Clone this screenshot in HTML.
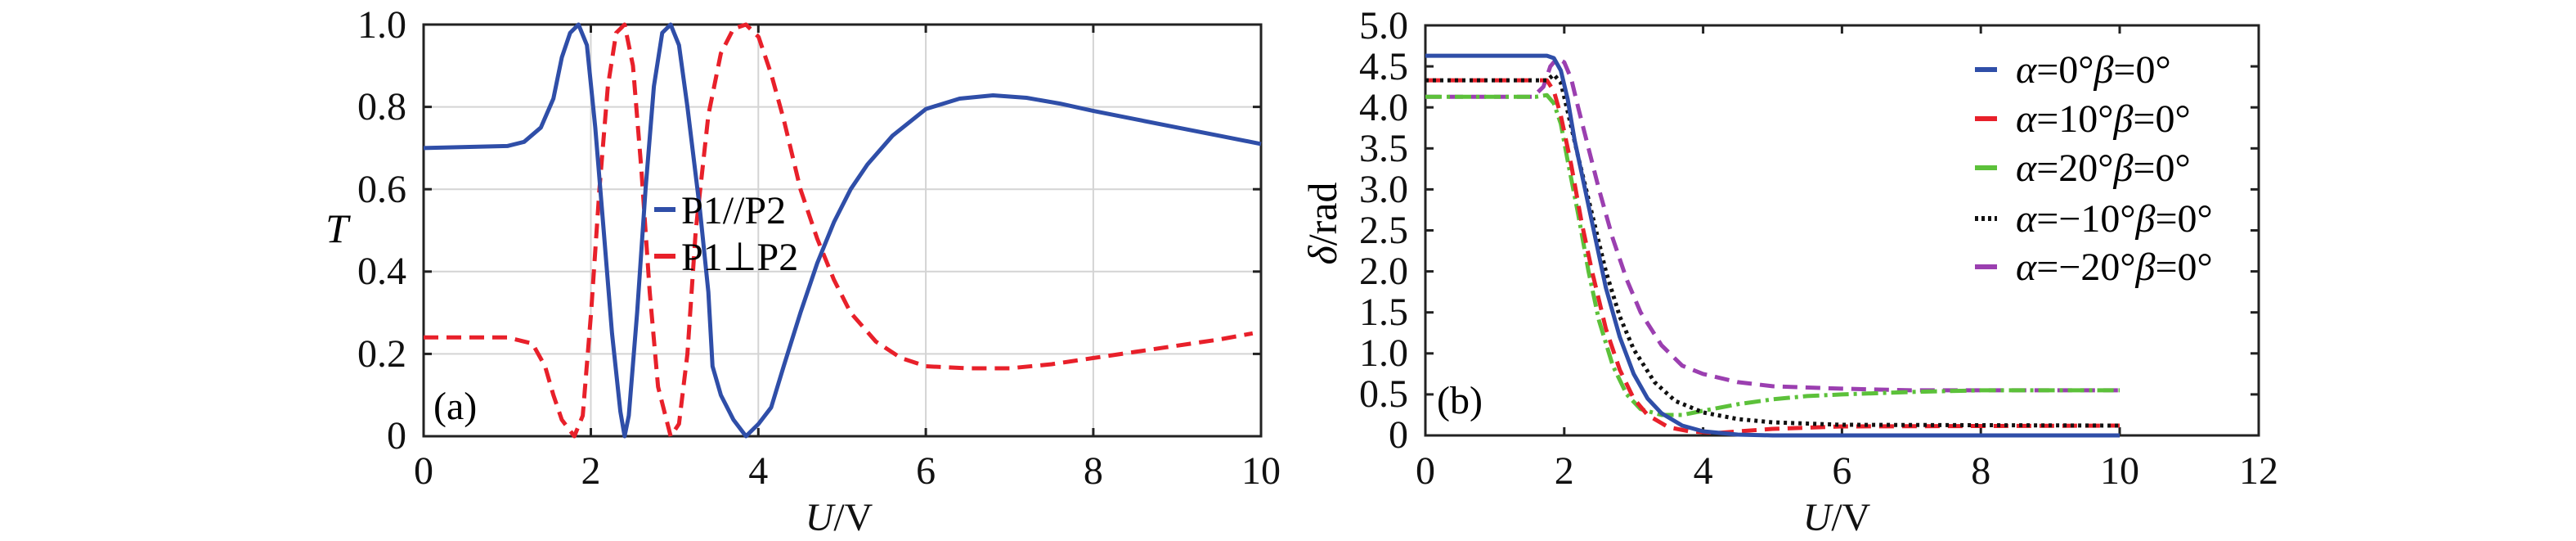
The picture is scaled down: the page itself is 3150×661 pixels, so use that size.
<!DOCTYPE html>
<html><head><meta charset="utf-8"><style>
html,body{margin:0;padding:0;background:#fff;}
svg{display:block;font-family:"Liberation Serif",serif;}
</style></head><body>
<svg width="3150" height="661" viewBox="0 0 3150 661" xmlns="http://www.w3.org/2000/svg">
<rect width="3150" height="661" fill="#fff"/>
<g stroke="#d4d4d4" stroke-width="2">
<line x1="722.5" y1="30" x2="722.5" y2="533"/><line x1="927.3" y1="30" x2="927.3" y2="533"/>
<line x1="1132.1" y1="30" x2="1132.1" y2="533"/><line x1="1336.9" y1="30" x2="1336.9" y2="533"/>
<line x1="518" y1="432.4" x2="1542" y2="432.4"/><line x1="518" y1="331.8" x2="1542" y2="331.8"/>
<line x1="518" y1="231.2" x2="1542" y2="231.2"/><line x1="518" y1="130.6" x2="1542" y2="130.6"/>
</g>
<g stroke="#222" stroke-width="3">
<line x1="722.5" y1="533" x2="722.5" y2="523"/><line x1="927.3" y1="533" x2="927.3" y2="523"/><line x1="1132.1" y1="533" x2="1132.1" y2="523"/><line x1="1336.9" y1="533" x2="1336.9" y2="523"/>
<line x1="722.5" y1="30" x2="722.5" y2="40"/><line x1="927.3" y1="30" x2="927.3" y2="40"/><line x1="1132.1" y1="30" x2="1132.1" y2="40"/><line x1="1336.9" y1="30" x2="1336.9" y2="40"/>
<line x1="518" y1="432.4" x2="528" y2="432.4"/><line x1="518" y1="331.8" x2="528" y2="331.8"/><line x1="518" y1="231.2" x2="528" y2="231.2"/><line x1="518" y1="130.6" x2="528" y2="130.6"/>
<line x1="1542" y1="432.4" x2="1532" y2="432.4"/><line x1="1542" y1="331.8" x2="1532" y2="331.8"/><line x1="1542" y1="231.2" x2="1532" y2="231.2"/><line x1="1542" y1="130.6" x2="1532" y2="130.6"/>
</g>
<rect x="518" y="30" width="1024" height="503" fill="none" stroke="#222" stroke-width="3"/>
<g font-size="48" fill="#111" text-anchor="end">
<text x="497" y="548">0</text><text x="497" y="448">0.2</text><text x="497" y="347">0.4</text><text x="497" y="247">0.6</text><text x="497" y="146">0.8</text><text x="497" y="46">1.0</text>
</g>
<g font-size="48" fill="#111" text-anchor="middle">
<text x="518" y="591">0</text><text x="722.5" y="591">2</text><text x="927.3" y="591">4</text><text x="1132.1" y="591">6</text><text x="1336.9" y="591">8</text><text x="1542" y="591">10</text>
<text x="1026" y="648"><tspan font-style="italic">U</tspan>/V</text>
</g>
<text x="412" y="296" font-size="50" font-style="italic" text-anchor="middle">T</text>
<text x="530" y="512" font-size="48">(a)</text>
<polyline fill="none" stroke="#e8202a" stroke-width="5" stroke-dasharray="18,10" stroke-linejoin="round" points="518,412.3 620.4,412.3 651.1,419.8 666.5,447.5 676.7,482.7 687,512.9 702.3,533 712.6,507.9 722.8,382.1 733,231.2 743.3,105.5 753.5,40.1 763.8,30 774,80.3 784.2,206 794.5,356.9 804.7,472.6 820.1,533 830.3,517.9 840.6,432.4 850.8,281.5 866.2,140.7 881.5,65.2 896.9,35 912.2,30 927.6,45.1 943,90.4 958.3,145.7 978.8,231.2 999.3,291.6 1019.8,341.9 1040.2,382.1 1071,417.3 1101.7,437.4 1132.4,447.5 1183.6,450 1234.8,450 1286,445 1337.2,437.4 1388.4,429.9 1439.6,422.3 1490.8,414.8 1531.8,407.3"/>
<polyline fill="none" stroke="#2f4ea8" stroke-width="5" stroke-linejoin="round" points="518,180.9 620.4,178.4 640.9,173.3 661.4,155.8 676.7,120.5 687,70.2 697.2,40.1 707.4,30 717.7,55.2 727.9,155.8 738.2,281.5 748.4,407.3 758.6,502.8 763.8,533 768.9,507.9 779.1,382.1 789.4,231.2 799.6,105.5 809.8,40.1 820.1,30 830.3,55.2 840.6,130.6 855.9,256.4 866.2,356.9 871.3,447.5 881.5,482.7 896.9,512.9 912.2,533 927.6,517.9 943,497.8 958.3,447.5 978.8,382.1 999.3,321.7 1019.8,271.4 1040.2,231.2 1060.7,201 1091.4,165.8 1132.4,133.1 1173.4,120.5 1214.3,116.5 1255.3,119.5 1296.2,126.6 1337.2,135.6 1388.4,145.7 1439.6,155.8 1490.8,165.8 1542,175.9"/>
<line x1="800" y1="256" x2="826" y2="256" stroke="#2f4ea8" stroke-width="6"/>
<text x="833" y="273" font-size="48">P1//P2</text>
<line x1="800" y1="313" x2="826" y2="313" stroke="#e8202a" stroke-width="6"/>
<text x="833" y="330" font-size="48">P1⊥P2</text>

<g stroke="#222" stroke-width="3">
<line x1="1912.8" y1="532" x2="1912.8" y2="522"/><line x1="2082.6" y1="532" x2="2082.6" y2="522"/><line x1="2252.4" y1="532" x2="2252.4" y2="522"/><line x1="2422.2" y1="532" x2="2422.2" y2="522"/><line x1="2592" y1="532" x2="2592" y2="522"/>
<line x1="1912.8" y1="31" x2="1912.8" y2="41"/><line x1="2082.6" y1="31" x2="2082.6" y2="41"/><line x1="2252.4" y1="31" x2="2252.4" y2="41"/><line x1="2422.2" y1="31" x2="2422.2" y2="41"/><line x1="2592" y1="31" x2="2592" y2="41"/>
<line x1="1743" y1="481.9" x2="1753" y2="481.9"/><line x1="1743" y1="431.8" x2="1753" y2="431.8"/><line x1="1743" y1="381.7" x2="1753" y2="381.7"/><line x1="1743" y1="331.6" x2="1753" y2="331.6"/><line x1="1743" y1="281.5" x2="1753" y2="281.5"/><line x1="1743" y1="231.4" x2="1753" y2="231.4"/><line x1="1743" y1="181.3" x2="1753" y2="181.3"/><line x1="1743" y1="131.2" x2="1753" y2="131.2"/><line x1="1743" y1="81.1" x2="1753" y2="81.1"/>
<line x1="2762" y1="481.9" x2="2752" y2="481.9"/><line x1="2762" y1="431.8" x2="2752" y2="431.8"/><line x1="2762" y1="381.7" x2="2752" y2="381.7"/><line x1="2762" y1="331.6" x2="2752" y2="331.6"/><line x1="2762" y1="281.5" x2="2752" y2="281.5"/><line x1="2762" y1="231.4" x2="2752" y2="231.4"/><line x1="2762" y1="181.3" x2="2752" y2="181.3"/><line x1="2762" y1="131.2" x2="2752" y2="131.2"/><line x1="2762" y1="81.1" x2="2752" y2="81.1"/>
</g>
<rect x="1743" y="31" width="1019" height="501" fill="none" stroke="#222" stroke-width="3"/>
<g font-size="48" fill="#111" text-anchor="end">
<text x="1722" y="547">0</text><text x="1722" y="497">0.5</text><text x="1722" y="447">1.0</text><text x="1722" y="397">1.5</text><text x="1722" y="347">2.0</text><text x="1722" y="297">2.5</text><text x="1722" y="247">3.0</text><text x="1722" y="197">3.5</text><text x="1722" y="147">4.0</text><text x="1722" y="97">4.5</text><text x="1722" y="47">5.0</text>
</g>
<g font-size="48" fill="#111" text-anchor="middle">
<text x="1743" y="591">0</text><text x="1912.8" y="591">2</text><text x="2082.6" y="591">4</text><text x="2252.4" y="591">6</text><text x="2422.2" y="591">8</text><text x="2592" y="591">10</text><text x="2762" y="591">12</text>
<text x="2246" y="648"><tspan font-style="italic">U</tspan>/V</text>
</g>
<text transform="translate(1634,273) rotate(-90)" font-size="50" text-anchor="middle"><tspan font-style="italic">δ</tspan>/rad</text>
<text x="1757" y="505" font-size="48">(b)</text>
<polyline fill="none" stroke="#9b3fb0" stroke-width="5" stroke-dasharray="18,10" stroke-linejoin="round" points="1743,118.2 1874.6,118.2 1887.3,106.1 1895.8,81.1 1904.3,71.1 1912.8,76.1 1921.3,96.1 1929.8,131.2 1942.5,181.3 1955.3,231.4 1972.2,291.5 1989.2,341.6 2006.2,381.7 2031.7,421.8 2057.1,446.8 2082.6,456.9 2125,466.9 2167.5,471.9 2252.4,474.9 2337.3,476.9 2592,476.9"/>
<polyline fill="none" stroke="#5cc13a" stroke-width="5" stroke-dasharray="20,6,4,6" stroke-linejoin="round" points="1743,118.2 1878.8,118.2 1891.6,116.2 1900.1,126.2 1908.6,151.2 1917,196.3 1929.8,261.5 1942.5,331.6 1955.3,391.7 1972.2,446.8 1989.2,481.9 2006.2,499.9 2031.7,507 2057.1,507 2082.6,501.9 2125,493.9 2167.5,487.9 2210,483.9 2252.4,481.9 2337.3,478.9 2422.2,476.9 2592,476.9"/>
<polyline fill="none" stroke="#e8202a" stroke-width="5" stroke-dasharray="18,10" stroke-linejoin="round" points="1743,98.1 1891.6,98.1 1900.1,111.2 1908.6,141.2 1921.3,201.3 1934,271.5 1946.8,331.6 1963.7,401.7 1980.7,451.8 1997.7,486.9 2014.7,507 2040.2,522 2065.6,527 2099.6,529 2167.5,524 2252.4,521 2592,520"/>
<polyline fill="none" stroke="#111" stroke-width="5" stroke-dasharray="4,5" points="1743,98.1 1891.6,98.1 1900.1,91.1 1908.6,101.1 1917,136.2 1929.8,191.3 1946.8,261.5 1963.7,331.6 1980.7,386.7 1997.7,426.8 2023.2,466.9 2048.6,489.9 2082.6,503.9 2125,512 2167.5,516 2252.4,519 2592,520"/>
<polyline fill="none" stroke="#2f4ea8" stroke-width="5" stroke-linejoin="round" points="1743,68.1 1891.6,68.1 1900.1,71 1908.6,86.1 1917,121.2 1925.5,171.3 1938.3,231.4 1951,291.5 1963.7,351.6 1980.7,411.8 1997.7,456.9 2014.7,486.9 2031.7,504.9 2057.1,520 2082.6,527 2125,531 2167.5,532 2592,532"/>
<g font-size="48" font-style="italic">
<line x1="2415" y1="85" x2="2442" y2="85" stroke="#2f4ea8" stroke-width="6"/>
<text x="2465" y="101">α<tspan font-style="normal">=0°</tspan>β<tspan font-style="normal">=0°</tspan></text>
<line x1="2415" y1="145" x2="2442" y2="145" stroke="#e8202a" stroke-width="6"/>
<text x="2465" y="161">α<tspan font-style="normal">=10°</tspan>β<tspan font-style="normal">=0°</tspan></text>
<line x1="2415" y1="205" x2="2442" y2="205" stroke="#5cc13a" stroke-width="6"/>
<text x="2465" y="221">α<tspan font-style="normal">=20°</tspan>β<tspan font-style="normal">=0°</tspan></text>
<line x1="2415" y1="267" x2="2442" y2="267" stroke="#111" stroke-width="6" stroke-dasharray="4,4"/>
<text x="2465" y="283">α<tspan font-style="normal">=−10°</tspan>β<tspan font-style="normal">=0°</tspan></text>
<line x1="2415" y1="326" x2="2442" y2="326" stroke="#9b3fb0" stroke-width="6"/>
<text x="2465" y="342">α<tspan font-style="normal">=−20°</tspan>β<tspan font-style="normal">=0°</tspan></text>
</g>
</svg>
</body></html>
